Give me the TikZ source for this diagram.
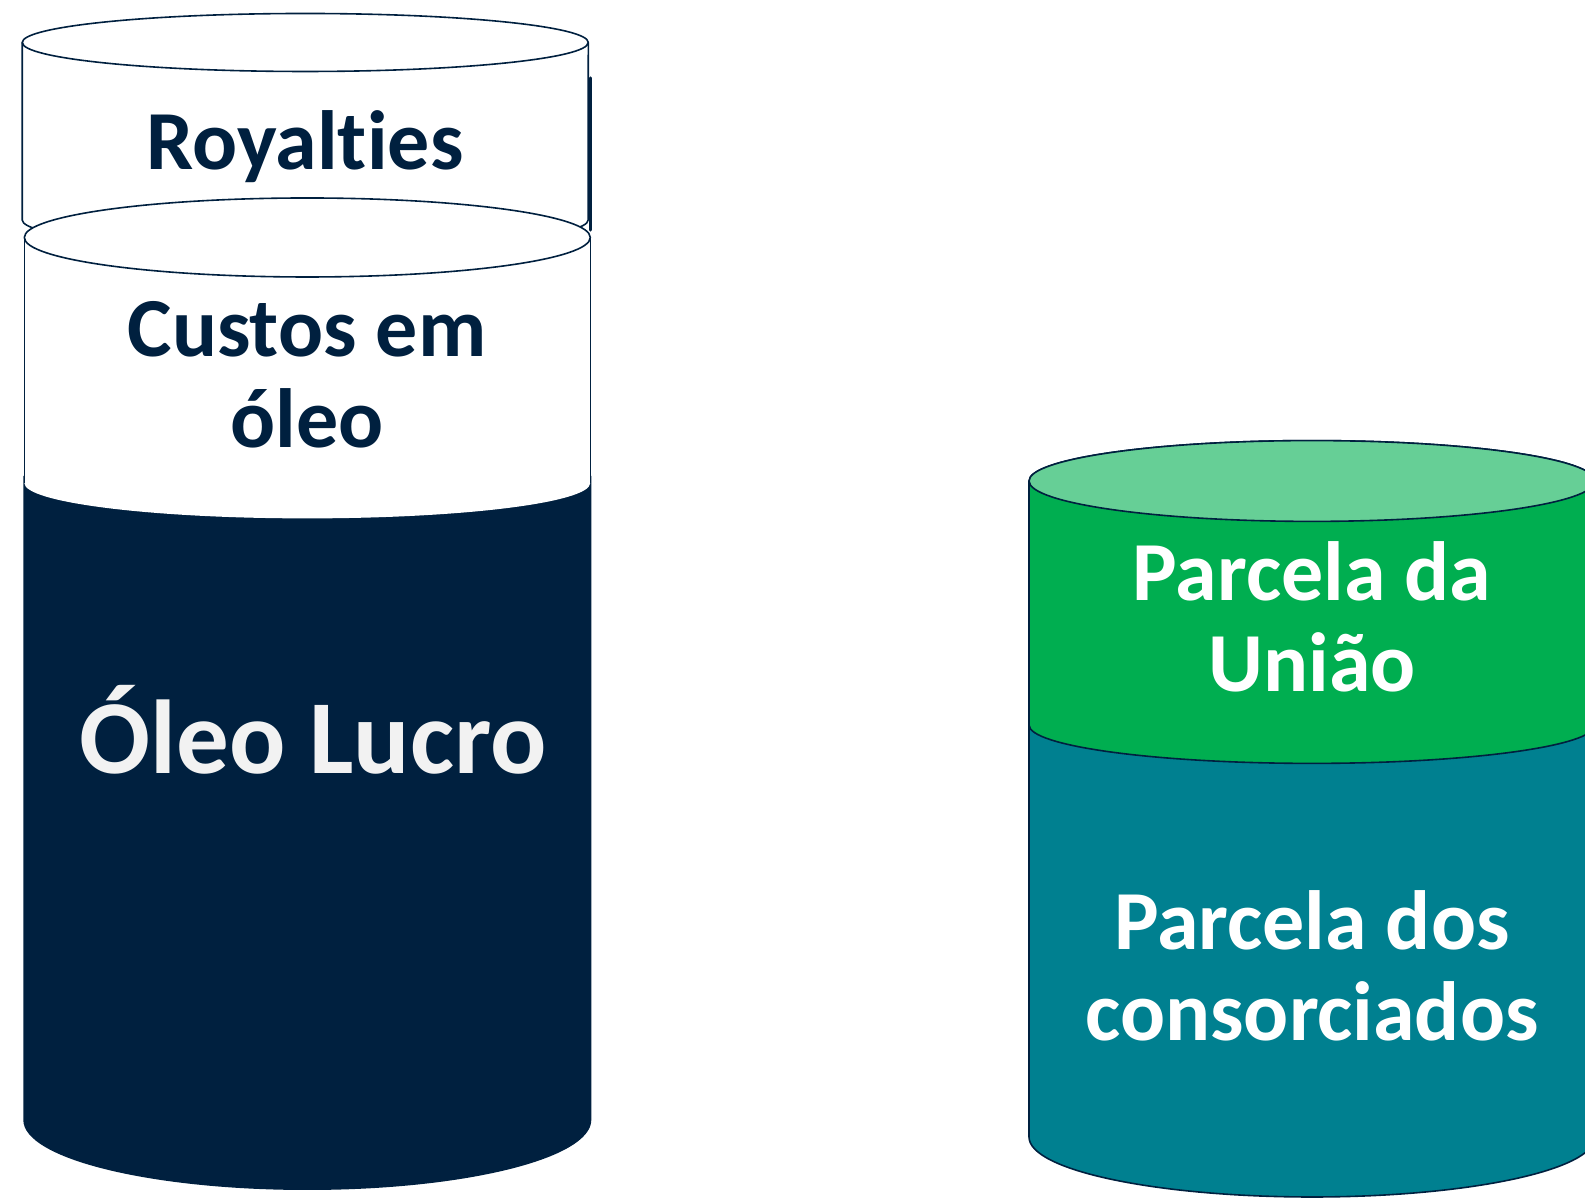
\documentclass[tikz,border=0pt]{standalone}
\usepackage{fontspec}
\setmainfont{Carlito}[RawFeature={-liga,-dlig}]
\definecolor{navy}{HTML}{00203F}
\definecolor{palewhite}{HTML}{F2F2F2}
\definecolor{ugreen}{HTML}{00AE50}
\definecolor{ugreentop}{HTML}{66CF96}
\definecolor{uteal}{HTML}{008090}
\begin{document}
\begin{tikzpicture}[x=0.5pt,y=0.5pt,line join=round,
  outline/.style={draw=navy,line width=0.8pt},
  darklabel/.style={text=navy,font=\fontsize{42}{45.5}\selectfont\bfseries,align=center,anchor=base,inner sep=0pt},
  lightlabel/.style={text=white,font=\fontsize{42}{45.5}\selectfont\bfseries,align=center,anchor=base,inner sep=0pt}]
\useasboundingbox (0,0) rectangle (1585,1198);
\clip (0,0) rectangle (1585,1198);
% ---- left stack ----
% dark cylinder (Oleo Lucro)
\path[fill=navy] (23.3,722) -- (23.3,78)
  arc[start angle=180,end angle=360,x radius=142pt,y radius=35pt] -- (591.3,722) -- cycle;
% edge of a hidden shape behind the Royalties cylinder
\draw[navy,line width=1.6pt,line cap=round] (590.5,1120) -- (590.5,968);
% Royalties cylinder
\path[fill=white,outline] (22.2,1155.5) -- (22.2,978)
  arc[start angle=180,end angle=360,x radius=141.5pt,y radius=14.5pt] -- (588.3,1155.5) -- cycle;
\path[fill=white,outline] (305.25,1155.5) ellipse [x radius=141.5pt,y radius=14.5pt];
% Custos cylinder
\path[fill=white] (24.3,960.5) -- (24.3,715)
  arc[start angle=180,end angle=360,x radius=141.5pt,y radius=17.7pt] -- (590.3,960.5) -- cycle;
\draw[outline] (24.3,960.5) -- (24.3,715);
\draw[outline] (590.3,960.5) -- (590.3,715);
\path[fill=white,outline] (307.3,960.5) ellipse [x radius=141.5pt,y radius=19.75pt];
% ---- right stack ----
\path[fill=uteal,outline] (1029,473) -- (1029,61)
  arc[start angle=180,end angle=360,x radius=141.5pt,y radius=30pt] -- (1595,473) -- cycle;
\path[fill=ugreen,outline] (1029,717) -- (1029,473)
  arc[start angle=180,end angle=360,x radius=141.5pt,y radius=19.2pt] -- (1595,717)
  arc[start angle=0,end angle=180,x radius=141.5pt,y radius=20.2pt] -- cycle;
\path[fill=ugreentop,outline] (1312,717) ellipse [x radius=141.5pt,y radius=20.2pt];
% ---- labels (anchor base = last line) ----
\node[darklabel] (royalties) at (305,1028) {Royalties};
\node[darklabel] (custos) at (307,750) {Custos em\\óleo};
\node[lightlabel,text=palewhite,font=\fontsize{52.5}{60}\selectfont\bfseries] (lucro) at (313,424) {Óleo Lucro};
\node[lightlabel] (uniao) at (1312,506) {Parcela da\\União};
\node[lightlabel] (consorciados) at (1312,157) {Parcela dos\\consorciados};
\end{tikzpicture}
\end{document}
